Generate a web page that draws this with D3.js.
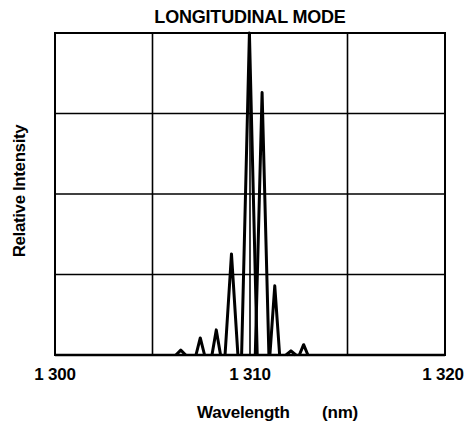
<!DOCTYPE html>
<html><head><meta charset="utf-8">
<script src="https://cdn.jsdelivr.net/npm/d3@7/dist/d3.min.js"></script>
<style>body{margin:0;background:#fff}svg{display:block}text{font-family:"Liberation Sans",Arial,sans-serif;font-weight:bold;fill:#000}</style>
</head><body><svg id="c" width="468" height="429"></svg>
<script>
// Mode wavelengths (nm), relative intensities, and half-widths at base (nm)
const peakWavelength = [1306.45, 1307.45, 1308.27, 1309.05, 1309.97, 1310.62, 1311.27, 1312.1, 1312.75];
const peakIntensity  = [0.015, 0.053, 0.078, 0.314, 1.0, 0.815, 0.215, 0.013, 0.032];
const peakHalfWidth  = [0.25, 0.22, 0.22, 0.33, 0.4, 0.35, 0.25, 0.25, 0.22];
const xTicks = [1300, 1310, 1320];
const xTickLabels = ["1 300", "1 310", "1 320"];
const xGrid = [1300, 1305, 1310, 1315, 1320];
const yGrid = [0, 0.25, 0.5, 0.75, 1];

const svg = d3.select("#c");
const m = {l:55, r:445, t:33, b:355};
const x = d3.scaleLinear().domain([1300,1320]).range([m.l,m.r]);
const y = d3.scaleLinear().domain([0,1]).range([m.b,m.t]);

const g = svg.append("g");
g.selectAll("line.vg").data(xGrid).join("line")
  .attr("x1",d=>x(d)).attr("x2",d=>x(d)).attr("y1",y(0)).attr("y2",y(1))
  .attr("stroke","#000").attr("stroke-width",1.6);
g.selectAll("line.hg").data(yGrid).join("line")
  .attr("y1",d=>y(d)).attr("y2",d=>y(d)).attr("x1",x(1300)).attr("x2",x(1320))
  .attr("stroke","#000").attr("stroke-width",1.6);
g.append("rect").attr("x",m.l).attr("y",m.t).attr("width",m.r-m.l).attr("height",m.b-m.t)
  .attr("fill","none").attr("stroke","#000").attr("stroke-width",2);

const peaks = peakWavelength.map((w,i)=>({w, h:peakIntensity[i], hw:peakHalfWidth[i]}));
const line = d3.line().x(d=>x(d[0])).y(d=>y(d[1]));
g.selectAll("path.pk").data(peaks).join("path")
  .attr("d",p=>line([[p.w-p.hw,0],[p.w,p.h],[p.w+p.hw,0]]))
  .attr("fill","none").attr("stroke","#000").attr("stroke-width",3).attr("stroke-linejoin","round");
// baseline
g.append("line").attr("x1",x(1300)).attr("x2",x(1320)).attr("y1",y(0)).attr("y2",y(0))
  .attr("stroke","#000").attr("stroke-width",2.4);

svg.selectAll("text.xt").data(xTicks).join("text")
  .attr("x",(d,i)=>x(d)+(i==2?-2:0)).attr("y",380).attr("text-anchor","middle")
  .attr("font-size",17).attr("letter-spacing",-0.2).text((d,i)=>xTickLabels[i]);

svg.append("text").attr("x",250).attr("y",23).attr("text-anchor","middle")
  .attr("font-size",18).attr("letter-spacing",-0.2).text("LONGITUDINAL MODE");
svg.append("text").attr("x",197).attr("y",418).attr("text-anchor","start")
  .attr("font-size",17).attr("letter-spacing",-0.2).text("Wavelength");
svg.append("text").attr("x",322).attr("y",418).attr("text-anchor","start")
  .attr("font-size",17).attr("letter-spacing",-0.2).text("(nm)");
svg.append("text").attr("transform","translate(25,191) rotate(-90)").attr("text-anchor","middle")
  .attr("font-size",17).attr("letter-spacing",-0.4).text("Relative Intensity");
</script></body></html>
